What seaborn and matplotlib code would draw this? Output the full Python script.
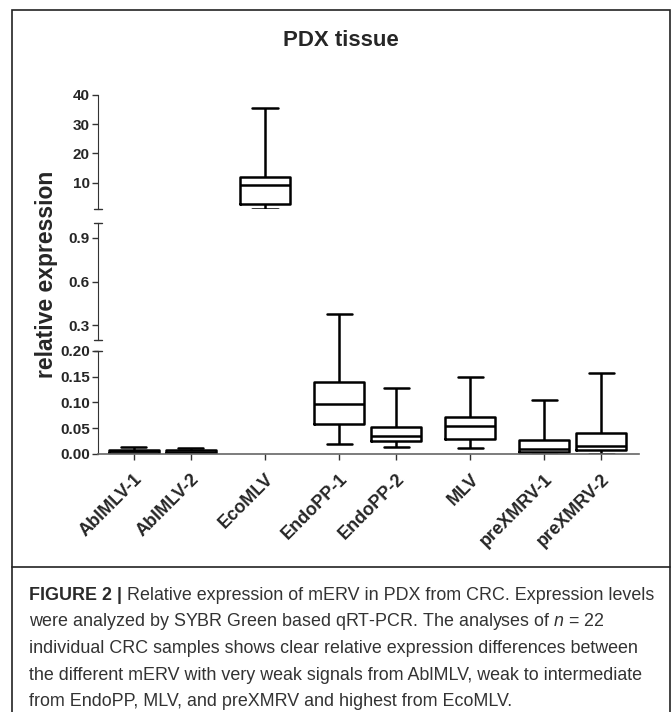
'''Broken-axis box plot: mERV relative expression in PDX tissue'''
import numpy as np
import pandas as pd
import seaborn as sns
import matplotlib.pyplot as plt
from matplotlib.lines import Line2D
from matplotlib.patches import Rectangle
from matplotlib.transforms import Bbox, TransformedBbox

sns.set_style('ticks')
plt.rcParams['font.family'] = ['Liberation Sans', 'DejaVu Sans']
plt.rcParams['mathtext.fontset'] = 'custom'
plt.rcParams['mathtext.it'] = 'Liberation Sans:italic'
plt.rcParams['mathtext.rm'] = 'Liberation Sans'

# categories and the groups GraphPad puts next to each other
categories = ['AblMLV-1', 'AblMLV-2', 'EcoMLV', 'EndoPP-1', 'EndoPP-2',
              'MLV', 'preXMRV-1', 'preXMRV-2']
group_sizes = [2, 1, 2, 1, 2]

# five-number summaries: min, q1, median, q3, max
abl_1 = [0.0005, 0.002, 0.005, 0.008, 0.013]
abl_2 = [0.0003, 0.0015, 0.004, 0.007, 0.011]
eco = [1.1, 2.8, 9.3, 11.9, 35.7]
endo_1 = [0.019, 0.059, 0.098, 0.140, 0.376]
endo_2 = [0.014, 0.025, 0.035, 0.052, 0.129]
mlv = [0.012, 0.030, 0.054, 0.071, 0.149]
prexmrv_1 = [0.0006, 0.0045, 0.0097, 0.0265, 0.105]
prexmrv_2 = [0.0006, 0.0071, 0.0155, 0.0408, 0.158]
values = [abl_1, abl_2, eco, endo_1, endo_2, mlv, prexmrv_1, prexmrv_2]

# y-axis segments (bottom to top) and their ticks
segments = [(0.0, 0.2), (0.2, 1.0), (1.0, 40.0)]
seg_ticks = [[0.0, 0.05, 0.10, 0.15, 0.20], [0.3, 0.6, 0.9], [10, 20, 30, 40]]
seg_labels = [['0.00', '0.05', '0.10', '0.15', '0.20'],
              ['0.3', '0.6', '0.9'], ['10', '20', '30', '40']]

caption_bold = 'FIGURE 2 | '
caption_lines = [
    'Relative expression of mERV in PDX from CRC. Expression levels',
    'were analyzed by SYBR Green based qRT-PCR. The analyses of $n$ = 22',
    'individual CRC samples shows clear relative expression differences between',
    'the different mERV with very weak signals from AblMLV, weak to intermediate',
    'from EndoPP, MLV, and preXMRV and highest from EcoMLV.',
]

# x slots: 1 unit inside a group, 1.3 between groups
positions = []
x = 0.0
for g in group_sizes:
    for i in range(g):
        positions.append(round(x, 2))
        x += 1.0
    x += 0.3

df = pd.DataFrame({
    'pos': np.repeat(positions, 5),
    'value': np.concatenate(values),
})

W, H = 672, 712
fig = plt.figure(figsize=(W / 100, H / 100), dpi=100)

# pixel boxes of the three axes (top, bottom in px)
left, right = 98, 639
seg_px = [(351, 454), (223, 340), (95, 209)]
axes = []
for (lo, hi), (t, b) in zip(segments, seg_px):
    ax = fig.add_axes([left / W, 1 - b / H, (right - left) / W, (b - t) / H])
    sns.boxplot(data=df, x='pos', y='value', native_scale=True, fill=False,
                color='black', linecolor='#111111', linewidth=1.8, width=0.88,
                whis=(0, 100), ax=ax)
    ax.set_ylim(lo, hi)
    ax.set_xlim(positions[0] - 0.63, positions[-1] + 0.66)
    ax.set_xlabel('')
    ax.set_ylabel('')
    for s in ['top', 'right']:
        ax.spines[s].set_visible(False)
    ax.spines['left'].set_color('#333333')
    ax.spines['bottom'].set_color('#666666')
    ax.spines['bottom'].set_linewidth(1.2)
    ax.tick_params(axis='both', length=4, width=1, color='#333333',
                   labelsize=11, pad=2)
    axes.append(ax)

for ax, ticks, labels in zip(axes, seg_ticks, seg_labels):
    ax.set_yticks(ticks)
    ax.set_yticklabels(labels, fontweight='bold')

# whiskers that run through the break are drawn across the gap
bot = axes[0]
gap = (seg_px[0][0] - seg_px[1][1]) / (seg_px[0][1] - seg_px[0][0])
hi0 = segments[0][1]
for ln in bot.lines:
    yd = np.asarray(ln.get_ydata(), dtype=float)
    if len(yd) and yd.min() < hi0 < yd.max():
        ln.set_clip_box(TransformedBbox(Bbox([[0, 0], [1, 1 + gap]]),
                                        bot.transAxes))

# segment end caps on the broken axis
cap = 4 / (right - left)
ends = [[1], [0, 1], [0]]
for ax, e in zip(axes, ends):
    for yy in e:
        ax.plot([-cap, cap], [yy, yy], transform=ax.transAxes, color='#333333',
                lw=1, clip_on=False)

bot.set_xticks(positions)
bot.set_xticklabels(categories, rotation=45, ha='right', va='top',
                    rotation_mode='anchor', fontweight='bold', fontsize=13)
bot.tick_params(axis='x', pad=8)
for ax in axes[1:]:
    ax.spines['bottom'].set_visible(False)
    ax.set_xticks([])

fig.text(47 / W, 1 - 274 / H, 'relative expression', rotation=90, ha='center',
         va='center', fontsize=16.5, fontweight='bold')
fig.text(341 / W, 1 - 41 / H, 'PDX tissue', ha='center', va='center',
         fontsize=16, fontweight='bold')

# frame and caption
fig.add_artist(Rectangle((12 / W, -0.02), (670 - 12) / W, 1 - 10 / H + 0.02,
                         transform=fig.transFigure, fill=False,
                         edgecolor='#222222', lw=1.2))
fig.add_artist(Line2D([12 / W, 670 / W], [1 - 567 / H] * 2,
                      transform=fig.transFigure, color='#222222', lw=1.2))

line_h = 26.7
y0 = 595
fs = 12.9
t = fig.text(29 / W, 1 - y0 / H, caption_bold, ha='left', va='center',
             fontsize=fs, fontweight='bold', color='#2a2a2a')
plt.annotate(caption_lines[0], xy=(1, 0), xycoords=t, ha='left', va='bottom',
             fontsize=fs, color='#333333')
for i, line in enumerate(caption_lines[1:], start=1):
    fig.text(29 / W, 1 - (y0 + i * line_h) / H, line, ha='left', va='center',
             fontsize=fs, color='#333333')

fig.savefig('out.png', dpi=100)
